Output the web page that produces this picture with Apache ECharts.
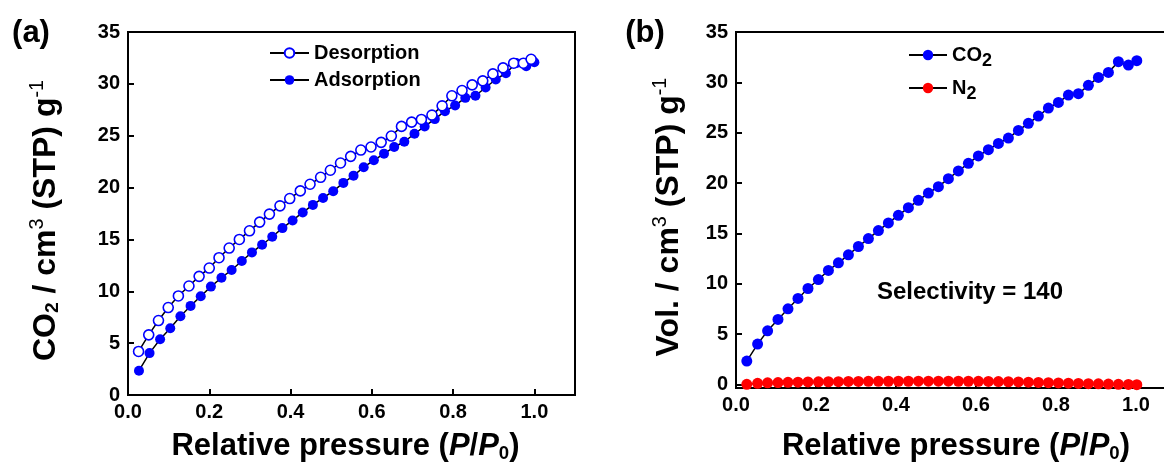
<!DOCTYPE html>
<html><head><meta charset="utf-8">
<script src="https://cdn.jsdelivr.net/npm/echarts@6/dist/echarts.min.js"></script>
<style>html,body{margin:0;padding:0;background:#fff}#c{width:1164px;height:464px}</style>
</head><body><div id="c"></div>
<script>
// ---- data ----
const adsX = [0.027,0.053,0.079,0.104,0.129,0.154,0.179,0.204,0.23,0.255,0.28,0.305,0.33,0.355,0.38,0.405,0.43,0.455,0.48,0.505,0.53,0.555,0.58,0.605,0.63,0.655,0.68,0.705,0.73,0.755,0.78,0.805,0.83,0.855,0.88,0.905,0.93,0.955,0.98,1.0];
const adsY = [2.34,4.04,5.38,6.44,7.6,8.59,9.52,10.45,11.31,12.05,12.92,13.75,14.49,15.26,16.09,16.83,17.6,18.33,19.0,19.65,20.45,21.15,21.96,22.63,23.27,23.91,24.42,25.19,25.9,26.6,27.37,27.92,28.65,28.85,29.65,30.42,31.03,32.0,31.7,32.08];
const desX = [0.026,0.051,0.075,0.099,0.124,0.15,0.175,0.2,0.224,0.249,0.274,0.299,0.324,0.348,0.374,0.398,0.424,0.448,0.474,0.498,0.523,0.548,0.573,0.598,0.623,0.648,0.673,0.698,0.722,0.748,0.773,0.797,0.822,0.847,0.873,0.898,0.923,0.949,0.973,0.992];
const desY = [4.2,5.8,7.18,8.43,9.55,10.51,11.44,12.24,13.24,14.17,15.0,15.83,16.67,17.44,18.24,18.94,19.68,20.32,20.99,21.67,22.37,23.01,23.62,23.91,24.36,24.97,25.9,26.31,26.57,26.99,27.88,28.85,29.36,29.9,30.29,30.96,31.54,31.99,31.99,32.37];
const co2X = [0.027,0.054,0.079,0.105,0.13,0.155,0.18,0.206,0.231,0.256,0.281,0.306,0.331,0.356,0.381,0.406,0.431,0.456,0.481,0.506,0.531,0.556,0.581,0.606,0.631,0.656,0.681,0.706,0.731,0.756,0.781,0.806,0.831,0.856,0.881,0.906,0.931,0.956,0.981,1.002];
const co2Y = [2.32,4.01,5.33,6.46,7.51,8.54,9.53,10.42,11.32,12.08,12.87,13.7,14.49,15.28,16.04,16.8,17.56,18.29,19.01,19.64,20.44,21.2,21.96,22.69,23.32,23.94,24.47,25.23,25.93,26.65,27.45,28.01,28.74,28.87,29.7,30.49,30.99,32.05,31.72,32.15];
const n2Y = [0.02,0.12,0.16,0.19,0.21,0.23,0.25,0.26,0.27,0.28,0.3,0.3,0.31,0.31,0.32,0.32,0.32,0.33,0.33,0.33,0.33,0.32,0.32,0.31,0.3,0.29,0.27,0.25,0.23,0.2,0.18,0.15,0.13,0.1,0.08,0.06,0.04,0.02,0.0,-0.02];
const xTicks = [0,0.2,0.4,0.6,0.8,1.0];
const yTicks = [0,5,10,15,20,25,30,35];
const seriesNames = ['Adsorption','Desorption','CO2','N2'];

// ---- chart ----
const FF = '"Liberation Sans", Arial, sans-serif';
const pairs = (xs, ys) => xs.map((x, i) => [x, ys[i]]);
const titleRich = (sz) => ({
  n: {fontSize: sz, fontWeight: 'bold', fontFamily: FF, color: '#000'},
  i: {fontSize: sz, fontWeight: 'bold', fontStyle: 'italic', fontFamily: FF, color: '#000'},
  s: {fontSize: sz*0.6, fontWeight: 'bold', fontFamily: FF, color: '#000', padding: [14,0,0,0]},
  p: {fontSize: sz*0.62, fontWeight: 'normal', fontFamily: FF, color: '#000', padding: [0,0,16,0]}
});
function xAxis(gi, gap, pad) {
  return {
    gridIndex: gi, type: 'value', min: 0, max: 1.1,
    axisLine: {show: true, onZero: false, lineStyle: {color: '#000', width: 2}},
    axisTick: {show: true, inside: true, length: 6, customValues: xTicks, lineStyle: {color: '#000', width: 2}},
    axisLabel: {customValues: xTicks, formatter: v => v.toFixed(1), fontSize: 20, fontWeight: 'bold', fontFamily: FF, color: '#000', margin: 7},
    splitLine: {show: false},
    name: '{n|Relative pressure (}{i|P}{n|/}{i|P}{s|0}{n|)}',
    nameLocation: 'middle', nameGap: gap,
    nameTextStyle: {rich: titleRich(31), padding: pad}
  };
}
function yAxis(gi, min, name, gap) {
  return {
    gridIndex: gi, type: 'value', min: min, max: 35,
    axisLine: {show: true, onZero: false, lineStyle: {color: '#000', width: 2}},
    axisTick: {show: true, inside: true, length: 6, customValues: yTicks, lineStyle: {color: '#000', width: 2}},
    axisLabel: {customValues: yTicks, fontSize: 20, fontWeight: 'bold', fontFamily: FF, color: '#000', margin: 8},
    splitLine: {show: false},
    name: name, nameLocation: 'middle', nameGap: gap,
    nameTextStyle: {rich: titleRich(32), padding: [0, 14, 0, 0]}
  };
}
const lineStyle = {color: '#000', width: 1.5};
const option = {
  animation: false,
  backgroundColor: '#fff',
  grid: [
    {left: 128, top: 32, width: 447, height: 363, containLabel: false, outerBoundsMode: 'none', show: true, borderColor: '#000', borderWidth: 2, backgroundColor: 'transparent'},
    {left: 736, top: 32, width: 440, height: 356, containLabel: false, outerBoundsMode: 'none', show: true, borderColor: '#000', borderWidth: 2, backgroundColor: 'transparent'}
  ],
  xAxis: [xAxis(0, 35, [0, 12, 0, 0]), xAxis(1, 42, [0, 0, 0, 0])],
  yAxis: [
    yAxis(0, 0, '{n|CO}{s|2}{n| / cm}{p|3}{n| (STP) g}{p|-1}', 64),
    yAxis(1, -0.35, '{n|Vol. / cm}{p|3}{n| (STP) g}{p|-1}', 49)
  ],
  legend: [
    {data: ['Desorption', 'Adsorption'], orient: 'vertical', left: 269, top: 43, padding: 0, itemWidth: 39, itemHeight: 12, itemGap: 7,
     textStyle: {fontSize: 20, fontWeight: 'bold', fontFamily: FF, color: '#000'}, selectedMode: false},
    {data: ['CO2', 'N2'], orient: 'vertical', left: 908, top: 45, padding: 0, itemWidth: 38, itemHeight: 13, itemGap: 8,
     formatter: n => n === 'CO2' ? '{n|CO}{s|2}' : '{n|N}{s|2}',
     textStyle: {rich: {
       n: {fontSize: 20, fontWeight: 'bold', fontFamily: FF, color: '#000'},
       s: {fontSize: 18, fontWeight: 'bold', fontFamily: FF, color: '#000', padding: [12,0,0,0]}
     }}, selectedMode: false}
  ],
  graphic: [
    {type: 'text', x: 31, y: 33, style: {text: '(a)', font: 'bold 31px ' + FF, fill: '#000', textAlign: 'center', textVerticalAlign: 'middle'}},
    {type: 'text', x: 645, y: 33, style: {text: '(b)', font: 'bold 31px ' + FF, fill: '#000', textAlign: 'center', textVerticalAlign: 'middle'}},
    {type: 'text', x: 970, y: 292, style: {text: 'Selectivity = 140', font: 'bold 24px ' + FF, fill: '#000', textAlign: 'center', textVerticalAlign: 'middle'}}
  ],
  series: [
    {name: seriesNames[0], type: 'line', xAxisIndex: 0, yAxisIndex: 0, data: pairs(adsX, adsY), symbol: 'circle', symbolSize: 10,
     lineStyle: lineStyle, itemStyle: {color: '#0000ff', borderWidth: 0}},
    {name: seriesNames[1], type: 'line', xAxisIndex: 0, yAxisIndex: 0, data: pairs(desX, desY), symbol: 'circle', symbolSize: 10,
     lineStyle: lineStyle, itemStyle: {color: '#ffffff', borderColor: '#0000ff', borderWidth: 1.6}},
    {name: seriesNames[2], type: 'line', xAxisIndex: 1, yAxisIndex: 1, data: pairs(co2X, co2Y), symbol: 'circle', symbolSize: 11,
     lineStyle: lineStyle, itemStyle: {color: '#0000ff', borderWidth: 0}},
    {name: seriesNames[3], type: 'line', xAxisIndex: 1, yAxisIndex: 1, data: pairs(co2X, n2Y), symbol: 'circle', symbolSize: 11,
     lineStyle: lineStyle, itemStyle: {color: '#ff0000', borderWidth: 0}}
  ]
};
const chart = echarts.init(document.getElementById('c'), null, {renderer: 'canvas'});
chart.setOption(option);
</script>
</body></html>
